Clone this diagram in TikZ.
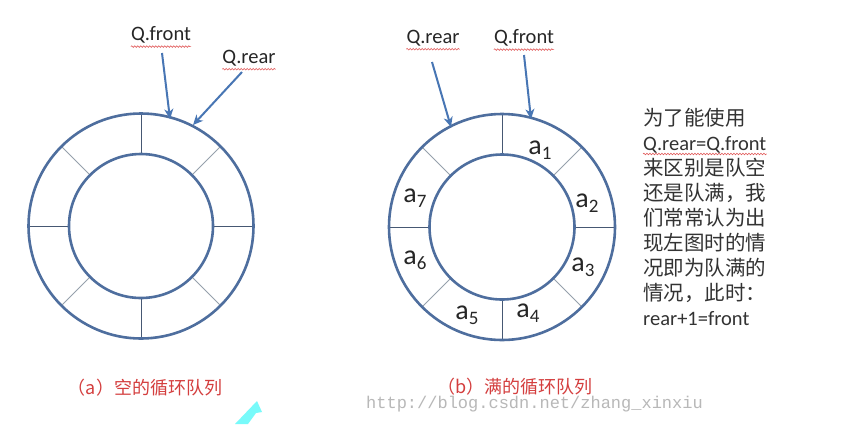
\documentclass[tikz,border=0pt]{standalone}
\usepackage{fontspec}
\setmainfont{Carlito}
\newfontfamily\cjk{Noto Sans CJK SC}
\newfontfamily\wmfont{Liberation Mono}
\usetikzlibrary{arrows.meta,decorations.pathmorphing,calc}
\definecolor{ringblue}{RGB}{78,110,158}
\definecolor{arrowblue}{RGB}{72,118,180}
\definecolor{divdark}{RGB}{70,88,115}
\definecolor{divlight}{RGB}{150,160,172}
\definecolor{capred}{RGB}{212,62,62}
\definecolor{wavered}{RGB}{225,90,90}
\definecolor{cursorcyan}{RGB}{120,250,250}
\newcommand{\asub}[1]{{\fontsize{28}{28}\selectfont a}\raisebox{-5pt}{\fontsize{19}{19}\selectfont #1}}
\tikzset{
  ring/.style={draw=ringblue,line width=2.6pt},
  divmain/.style={draw=divdark,line width=1pt},
  divdiag/.style={draw=divlight,line width=0.8pt},
  ptr/.style={draw=arrowblue,line width=2pt,-{Stealth[length=10pt,width=9pt,inset=3pt]}},
  qlabel/.style={inner sep=0pt,font=\fontsize{20.5}{20.5}\selectfont,text=black!85},
  squiggle/.style={draw=wavered,line width=0.6pt,decorate,decoration={snake,amplitude=0.8pt,segment length=3pt}},
  elabel/.style={inner sep=0pt,text=black!85},
  caption/.style={inner sep=0pt,font=\cjk\fontsize{18}{18}\selectfont,text=capred},
  tline/.style={anchor=base west,inner sep=0pt,text=black!80,font=\fontsize{20.5}{20.5}\selectfont},
}
\begin{document}
\begin{tikzpicture}[x=1pt,y=-1pt]
\useasboundingbox (0,0) rectangle (856,424);
\fill[white] (0,0) rectangle (856,424);

% ---------- left ring (a) ----------
\coordinate (ca) at (141,226);
\foreach \ang in {90,270,0,180}
  \draw[divmain] ($(ca)+(\ang:72)$) -- ($(ca)+(\ang:112.5)$);
\foreach \ang in {45,135,225,315}
  \draw[divdiag] ($(ca)+(\ang:72)$) -- ($(ca)+(\ang:112.5)$);
\draw[ring] (ca) circle[radius=112.5];
\draw[ring] (ca) circle[radius=72];

\node[qlabel] (qfa) at (161,35) {Q.front};
\node[qlabel] (qra) at (249,58) {Q.rear};
\draw[squiggle] ([yshift=-3pt]qfa.south west) -- ([yshift=-3pt]qfa.south east);
\draw[squiggle] ([yshift=-3pt]qra.south west) -- ([yshift=-3pt]qra.south east);
\coordinate (qfaS) at (162,53);
\coordinate (qfaE) at (170,119);
\coordinate (qraS) at (242,72);
\coordinate (qraE) at (193,125);
\draw[ptr] (qfaS) -- (qfaE);
\draw[ptr] (qraS) -- (qraE);

% ---------- right ring (b) ----------
\coordinate (cb) at (502,227);
\foreach \ang in {90,270,0,180}
  \draw[divmain] ($(cb)+(\ang:72.5)$) -- ($(cb)+(\ang:113)$);
\foreach \ang in {45,135,225,315}
  \draw[divdiag] ($(cb)+(\ang:72.5)$) -- ($(cb)+(\ang:113)$);
\draw[ring] (cb) circle[radius=113];
\draw[ring] (cb) circle[radius=72.5];

\node[elabel] (a1) at (540,150) {\asub{1}};
\node[elabel] (a2) at (587,203) {\asub{2}};
\node[elabel] (a3) at (583,267) {\asub{3}};
\node[elabel] (a4) at (528,313) {\asub{4}};
\node[elabel] (a5) at (467,315) {\asub{5}};
\node[elabel] (a6) at (415,260) {\asub{6}};
\node[elabel] (a7) at (415,198) {\asub{7}};

\node[qlabel] (qrb) at (433,38) {Q.rear};
\node[qlabel] (qfb) at (524,38) {Q.front};
\draw[squiggle] ([yshift=-3pt]qrb.south west) -- ([yshift=-3pt]qrb.south east);
\draw[squiggle] ([yshift=-3pt]qfb.south west) -- ([yshift=-3pt]qfb.south east);
\coordinate (qrbS) at (432,62);
\coordinate (qrbE) at (451,127);
\coordinate (qfbS) at (524,55);
\coordinate (qfbE) at (531,119);
\draw[ptr] (qrbS) -- (qrbE);
\draw[ptr] (qfbS) -- (qfbE);

% ---------- explanation text ----------
\node[tline] (t1) at (643,125) {\cjk 为了能使用};
\node[tline] (t2) at (643,150) {Q.rear=Q.front};
\draw[squiggle] ([yshift=-4pt]t2.base west) -- ([yshift=-4pt]t2.base east);
\node[tline] (t3) at (643,175) {\cjk 来区别是队空};
\node[tline] (t4) at (643,200) {\cjk 还是队满，我};
\node[tline] (t5) at (643,225) {\cjk 们常常认为出};
\node[tline] (t6) at (643,250) {\cjk 现左图时的情};
\node[tline] (t7) at (643,275) {\cjk 况即为队满的};
\node[tline] (t8) at (643,300) {\cjk 情况，此时：};
\node[tline] (t9) at (643,325) {rear+1=front};

% ---------- watermark and captions ----------
\node[inner sep=0pt,text=black!28,font=\wmfont\fontsize{17}{17}\selectfont] (wm) at (534.5,404) {http://blog.csdn.net/zhang\_xinxiu};
\node[caption] (capa) at (145,388) {（a）空的循环队列};
\node[caption] (capb) at (515,387) {（b）满的循环队列};

% cursor artifact
\fill[cursorcyan] (235,424) -- (257,401) -- (262,412) -- (256,413) -- (248,424) -- cycle;
\end{tikzpicture}
\end{document}
